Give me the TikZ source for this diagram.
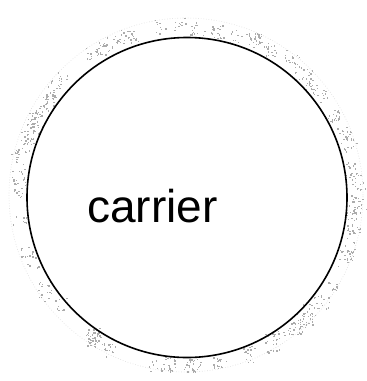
\documentclass[tikz,border=0pt]{standalone}
\usepackage{fontspec}
\setmainfont{Liberation Sans}
\begin{document}
\begin{tikzpicture}[x=1pt,y=-1pt,
  ringline/.style={draw=black,line width=1.6pt,circle,inner sep=0pt,minimum size=320pt},
  halo/.style={draw=gray!30,line width=0.6pt,dotted,circle,inner sep=0pt,minimum size=354pt},
  speck/.style={fill=gray!65},
  lbl/.style={font=\fontsize{46}{46}\selectfont,inner sep=0pt,anchor=base west}]
\useasboundingbox (0,0) rectangle (367,381);
\node[halo] (outer) at (186,195) {};
\pgfmathsetseed{11}
\foreach \i in {1,...,95}{
  \pgfmathsetmacro{\ang}{360*rnd}
  \pgfmathsetmacro{\rad}{166+7*rnd}
  \pgfmathsetmacro{\cx}{186+\rad*cos(\ang)}
  \pgfmathsetmacro{\cy}{196-\rad*sin(\ang)}
  \foreach \j in {1,...,9}{
    \pgfmathsetmacro{\px}{\cx+7*rand}
    \pgfmathsetmacro{\py}{\cy+7*rand}
    \fill[speck] (\px,\py) rectangle ++(1.4,1.4);
  }
}
\node[ringline] (carrier) at (187,197.5) {};
\node[lbl] (label) at (87,222) {carrier};
\end{tikzpicture}
\end{document}
